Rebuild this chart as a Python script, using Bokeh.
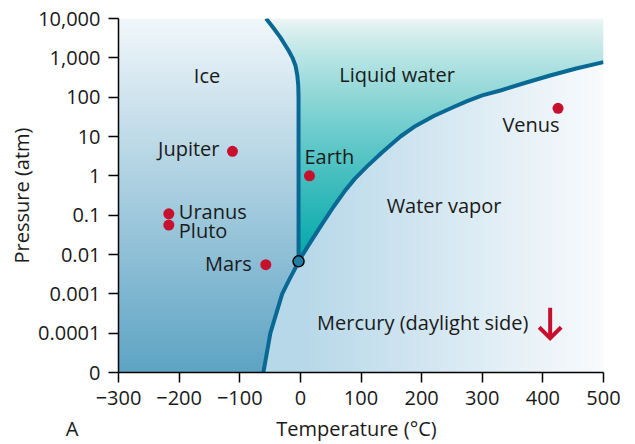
import numpy as np
from bokeh.plotting import figure
from bokeh.models import Range1d, FixedTicker, Div
from bokeh.layouts import column
from bokeh.core.properties import value
from bokeh.embed import file_html
from bokeh.resources import INLINE

# ---------------- data ----------------
x_ticks = [-300, -200, -100, 0, 100, 200, 300, 400, 500]
x_tick_labels = ["\u2212300", "\u2212200", "\u2212100", "0", "100", "200", "300", "400", "500"]
y_tick_pressures = [10000, 1000, 100, 10, 1, 0.1, 0.01, 0.001, 0.0001, 0]
y_tick_labels = ["10,000", "1,000", "100", "10", "1", "0.1", "0.01", "0.001", "0.0001", "0"]

planets = ["Jupiter", "Uranus", "Pluto", "Mars", "Earth", "Venus"]
planet_temp = [-112, -217, -217, -57, 15, 425]
planet_pressure = [4.2, 0.108, 0.056, 0.0055, 1.0, 52]

mercury_temp = 412

triple_temp = -3
triple_pressure = 0.0067

# ice / liquid boundary (melting curve)
melt_temp = [-3, -3, -3.5, -5, -8, -13, -20, -33, -45, -56.6]
melt_pressure = [0.0067, 100, 200, 355, 630, 1000, 1585, 3310, 5890, 10000]

# ice / vapor boundary (sublimation curve); 0 = bottom of the chart
sub_temp = [-3, -10, -19, -30, -49.5, -61]
sub_pressure = [0.0067, 0.0040, 0.0022, 0.001, 0.0001, 0]

# liquid / vapor boundary (boiling curve)
vap_temp = [-3, 14, 36, 55, 74, 90, 110, 135, 165, 190, 220, 250, 275, 300, 330,
            370, 412, 455, 500]
vap_pressure = [0.0067, 0.0178, 0.060, 0.166, 0.427, 0.85, 1.74, 3.98, 10.0, 18.6,
                33.1, 53.7, 79.4, 111, 148, 229, 355, 537, 776]

region_names = ["Ice", "Liquid water", "Water vapor"]
x_axis_title = "Temperature (\u00b0C)"
y_axis_title = "Pressure (atm)"
panel_letter = "A"

# ---------------- helpers ----------------
FLOOR = 1e-5  # the axis' "0" level


def ly(p):
    return np.log10(np.maximum(np.asarray(p, dtype=float), FLOOR))


FONT = value("Open Sans")
TXT = "#1a1a1a"
CURVE = "#0a6894"
RED = "#c8102e"

W, H = 635, 418
p = figure(width=W, height=H, output_backend="svg", toolbar_location=None,
           x_range=Range1d(-300, 500), y_range=Range1d(-5, 4),
           min_border_left=118, min_border_right=32, min_border_top=18,
           min_border_bottom=46, margin=(0, 0, 0, 0))
p.outline_line_color = None
p.xgrid.visible = False
p.ygrid.visible = False
p.background_fill_color = "white"
p.border_fill_color = "white"

# ---------------- background gradients (image) ----------------
nx, ny = 485, 354
T = np.linspace(-300, 500, nx)
L = np.linspace(-5, 4, ny)
TT, LL = np.meshgrid(T, L)
Lt = float(ly(triple_pressure))
mL = ly(melt_pressure)
sL = ly(sub_pressure)[::-1]
sT = np.array(sub_temp, dtype=float)[::-1]
vL = ly(vap_pressure)

t_melt = np.interp(LL, mL, melt_temp)
t_sub = np.interp(LL, sL, sT)
l_vap = np.interp(TT, vap_temp, vL)

ice = np.where(LL >= Lt, TT < t_melt, TT < t_sub)
liquid = (~ice) & (LL >= Lt) & (LL > l_vap)


def lerp(c0, c1, t):
    c0 = np.array(c0, float)
    c1 = np.array(c1, float)
    return c0 + (c1 - c0) * t[..., None]


ti = (4 - LL) / 9.0
ice_c = lerp((241, 247, 251), (94, 164, 196), ti)
tl = np.clip((4 - LL) / (4 - Lt), 0, 1) ** 0.8
liq_c = lerp((240, 247, 246), (0, 168, 170), tl)
tv = np.clip(TT / 500.0, 0, 1)
vap_c = lerp((183, 216, 233), (249, 251, 253), tv)

rgb = np.where(ice[..., None], ice_c, np.where(liquid[..., None], liq_c, vap_c))
img = np.empty((ny, nx), dtype=np.uint32)
view = img.view(dtype=np.uint8).reshape((ny, nx, 4))
view[..., 0] = rgb[..., 0].astype(np.uint8)
view[..., 1] = rgb[..., 1].astype(np.uint8)
view[..., 2] = rgb[..., 2].astype(np.uint8)
view[..., 3] = 255
p.image_rgba(image=[img], x=-300, y=-5, dw=800, dh=9)

# ---------------- phase boundaries ----------------
for xs, ps in [(melt_temp, melt_pressure), (sub_temp, sub_pressure), (vap_temp, vap_pressure)]:
    p.line(xs, ly(ps), line_width=4, line_color=CURVE, line_join="round", line_cap="butt")

# triple point
p.scatter([triple_temp], [ly(triple_pressure)], size=11, fill_color="#1f7ea6",
          line_color="black", line_width=1.5)

# planets
p.scatter(planet_temp, ly(planet_pressure), size=11, fill_color=RED, line_color=None)

label_style = {
    "Jupiter": (-13, -3, "right"),
    "Uranus": (10, -2, "left"),
    "Pluto": (10, 5, "left"),
    "Mars": (-14, -1, "right"),
    "Earth": (-5, -19, "left"),
    "Venus": (-27, 16, "center"),
}
for name, t, pr in zip(planets, planet_temp, planet_pressure):
    dx, dy, al = label_style[name]
    p.text([t], [ly(pr)], text=[name], x_offset=dx, y_offset=dy, text_align=al,
           text_baseline="middle", text_font=FONT, text_font_size="20px", text_color=TXT)

# region labels
region_pos = [(-154, 2.56), (159.5, 2.58), (237, -0.75)]
for name, (tx, ty) in zip(region_names, region_pos):
    p.text([tx], [ty], text=[name], text_align="center", text_baseline="middle",
           text_font=FONT, text_font_size="20px", text_color=TXT)

# Mercury (pressure below the chart) arrow
ytop = -3.356
ytip = -4.13
wdx = 11 / (485 / 800)
wdy = 11 / (354 / 9)
p.line([mercury_temp, mercury_temp], [ytop, ytip], line_width=4, line_color=RED, line_cap="butt")
p.line([mercury_temp - wdx, mercury_temp, mercury_temp + wdx], [ytip + wdy, ytip, ytip + wdy],
       line_width=4, line_color=RED, line_join="miter", line_cap="butt")
p.text([27.5], [-3.73], text=["Mercury (daylight side)"], text_align="left",
       text_baseline="middle", text_font=FONT, text_font_size="20px", text_color=TXT)

# ---------------- axes ----------------
yt = [int(round(float(v))) for v in ly(y_tick_pressures)]
p.xaxis.ticker = FixedTicker(ticks=x_ticks)
p.xaxis.major_label_overrides = dict(zip(x_ticks, x_tick_labels))
p.yaxis.ticker = FixedTicker(ticks=yt)
p.yaxis.major_label_overrides = dict(zip(yt, y_tick_labels))

for ax in (p.xaxis[0], p.yaxis[0]):
    ax.axis_line_color = "black"
    ax.axis_line_width = 1.5
    ax.major_tick_line_color = "black"
    ax.major_tick_line_width = 1.5
    ax.major_tick_out = 10
    ax.major_tick_in = 0
    ax.minor_tick_out = 0
    ax.minor_tick_in = 0
    ax.major_label_text_font = "Open Sans"
    ax.major_label_text_font_size = "20px"
    ax.major_label_text_color = TXT
    ax.axis_label_text_font = "Open Sans"
    ax.axis_label_text_font_size = "20px"
    ax.axis_label_text_font_style = "normal"
    ax.axis_label_text_color = TXT

p.yaxis.axis_label = y_axis_title
p.xaxis.major_label_standoff = 8
p.yaxis.major_label_standoff = 8
p.yaxis.axis_label_standoff = 0

# bottom row: panel letter and x-axis title
caption = Div(
    width=W, height=22, margin=(0, 0, 0, 0),
    text=(
        '<div style="position:relative;width:635px;height:22px;margin:0;padding:0;'
        "font-family:'Open Sans';font-size:20px;line-height:22px;color:#1a1a1a;\">"
        '<span style="position:absolute;left:60px;top:0;width:24px;text-align:center;">'
        + panel_letter + '</span>'
        '<span style="position:absolute;left:114px;top:0;width:485px;text-align:center;'
        'white-space:nowrap;">' + x_axis_title + '</span></div>'
    ),
)

layout = column(p, caption, spacing=0, margin=(0, 0, 0, 0))
open("out.html", "w").write(file_html(layout, INLINE))
